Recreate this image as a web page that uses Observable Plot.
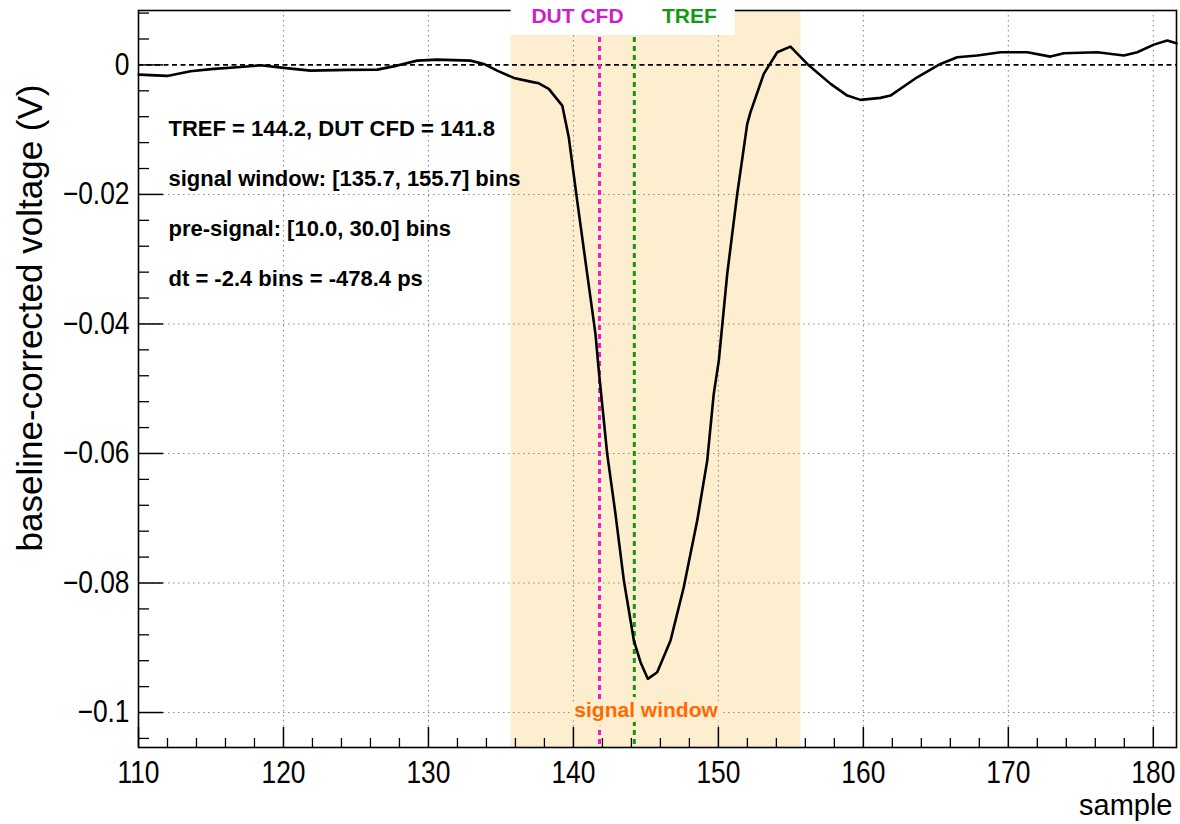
<!DOCTYPE html>
<html><head><meta charset="utf-8">
<script src="https://cdn.jsdelivr.net/npm/d3@7"></script>
<script src="https://cdn.jsdelivr.net/npm/@observablehq/plot@0.6"></script>
<style>
html,body{margin:0;padding:0;background:#fff}
#chart svg{display:block}
</style>
</head><body><div id="chart"></div>
<script>
// ---- data ----
const sample = [110.02,111.98,113.59,115.19,116.81,118.42,120.03,121.86,124.40,126.47,127.85,129.22,130.60,132.90,133.82,134.74,135.89,137.04,137.61,138.30,139.23,139.68,140.26,140.95,141.52,141.75,142.33,142.90,143.48,144.17,144.63,145.13,145.78,146.70,147.61,148.54,149.23,149.68,150.03,150.61,151.30,151.99,152.21,153.13,154.06,154.97,156.13,157.74,158.89,159.80,161.18,161.87,163.71,165.32,166.47,167.85,169.46,171.30,172.91,173.83,176.13,177.97,178.89,180.04,180.96,181.60];
const voltage = [-0.0015,-0.0017,-0.00099,-0.00062,-0.00037,-0.00006,-0.00046,-0.00088,-0.00077,-0.00073,-0.00011,0.00066,0.00082,0.00066,0.00015,-0.00088,-0.00201,-0.00258,-0.00284,-0.00371,-0.00628,-0.01118,-0.02095,-0.03227,-0.04153,-0.0472,-0.06006,-0.06932,-0.07962,-0.08888,-0.09223,-0.0948,-0.09378,-0.08888,-0.08065,-0.07036,-0.0611,-0.0508,-0.04566,-0.03227,-0.01992,-0.00911,-0.00732,-0.00139,0.00195,0.00283,0.00015,-0.00293,-0.00474,-0.0054,-0.00509,-0.00474,-0.00191,0.00015,0.00117,0.00144,0.00195,0.00195,0.00128,0.00179,0.00195,0.00144,0.00195,0.00313,0.00375,0.00334];
const xTickValues = [110,120,130,140,150,160,170,180];
const yTickValues = [0,-0.02,-0.04,-0.06,-0.08,-0.1];
const signalWindow = [135.7, 155.7];
const trefTime = 144.2;
const dutCfdTime = 141.8;
const markerLabels = ["DUT CFD", "TREF"];
const infoLines = [
  "TREF = 144.2, DUT CFD = 141.8",
  "signal window: [135.7, 155.7] bins",
  "pre-signal: [10.0, 30.0] bins",
  "dt = -2.4 bins = -478.4 ps"
];
const windowLabel = "signal window";
const xLabel = "sample";
const yLabel = "baseline-corrected voltage (V)";

// ---- layout ----
const W = 1180, H = 824, mL = 138, mR = 4, mT = 10, mB = 77;
const frameW = W - mL - mR, frameH = H - mT - mB;
const xDomain = [110, 181.6], yDomain = [-0.1054, 0.0084];
const bandColor = "#fdeed0";
const boldFont = "Liberation Sans, Arial, sans-serif";

const points = sample.map((s, i) => ({s, v: voltage[i]}));
const minorX = d3.range(112, 182, 2).filter(d => d % 10 !== 0);
const minorY = d3.range(-26, 3).filter(k => k % 5 !== 0).map(k => k * 0.004);

const chart = Plot.plot({
  width: W, height: H,
  marginLeft: mL, marginRight: mR, marginTop: mT, marginBottom: mB,
  style: {fontFamily: "Liberation Sans, Arial, sans-serif", fontSize: "28px", background: "white", color: "black"},
  x: {domain: xDomain, axis: null},
  y: {domain: yDomain, axis: null},
  marks: [
    Plot.rect([signalWindow], {x1: d => d[0], x2: d => d[1], fill: bandColor}),
    Plot.gridX(xTickValues.slice(1), {stroke: "#8a8a8a", strokeOpacity: 1, strokeWidth: 1.1, strokeDasharray: "1.5,3.5"}),
    Plot.gridY(yTickValues.slice(1), {stroke: "#8a8a8a", strokeOpacity: 1, strokeWidth: 1.1, strokeDasharray: "1.5,3.5"}),
    Plot.ruleY([0], {stroke: "black", strokeWidth: 1.6, strokeDasharray: "5,3.5"}),
    Plot.ruleX([dutCfdTime], {stroke: "#ee1ccc", strokeWidth: 3, strokeDasharray: "5,4"}),
    Plot.ruleX([trefTime], {stroke: "#129612", strokeWidth: 3, strokeDasharray: "5,4"}),
    Plot.line(points, {x: "s", y: "v", stroke: "black", strokeWidth: 2.6}),
    Plot.frame({stroke: "black", strokeWidth: 1.6}),
    Plot.ruleX(xTickValues, {x: d => d, insetTop: frameH - 20, stroke: "black", strokeWidth: 1.5}),
    Plot.ruleX(minorX, {x: d => d, insetTop: frameH - 9, stroke: "black", strokeWidth: 1.3}),
    Plot.ruleY(yTickValues, {y: d => d, insetRight: frameW - 25, stroke: "black", strokeWidth: 1.5}),
    Plot.ruleY(minorY, {y: d => d, insetRight: frameW - 11, stroke: "black", strokeWidth: 1.3}),
    Plot.axisX(xTickValues, {tickSize: 0, tickPadding: 13, fontSize: 31, label: null}),
    Plot.axisY(yTickValues, {tickSize: 0, tickPadding: 9, fontSize: 31, label: null, tickFormat: d3.format("~g")}),
    Plot.text([infoLines.join("\n")], {text: d => d, frameAnchor: "top-left", dx: 30, dy: 90, lineAnchor: "top", lineHeight: 2.27, textAnchor: "start", fontSize: 22, fontWeight: "bold", fontFamily: boldFont, fill: "black"}),
    Plot.text([windowLabel], {text: d => d, x: (signalWindow[0] + signalWindow[1]) / 2, frameAnchor: "bottom", dx: -10, dy: -37, lineAnchor: "middle", fontSize: 21, fontWeight: "bold", fontFamily: boldFont, fill: "#ff6a00", stroke: bandColor, strokeWidth: 10, strokeLinejoin: "round", paintOrder: "stroke"}),
    Plot.rect([0], {x1: signalWindow[0], x2: trefTime, insetRight: -101, insetTop: -mT, insetBottom: frameH + mT - 35, fill: "white"}),
    Plot.text([markerLabels[0]], {text: d => d, x: dutCfdTime, frameAnchor: "top", dx: -22, dy: 6, lineAnchor: "middle", fontSize: 21, fontWeight: "bold", fontFamily: boldFont, fill: "#cc1fcc"}),
    Plot.text([markerLabels[1]], {text: d => d, x: trefTime, frameAnchor: "top", dx: 55, dy: 6, lineAnchor: "middle", fontSize: 21, fontWeight: "bold", fontFamily: boldFont, fill: "#139a13"}),
    Plot.text([yLabel], {text: d => d, frameAnchor: "top-left", dx: -108, dy: 74, rotate: -90, textAnchor: "end", lineAnchor: "middle", fontSize: 35}),
    Plot.text([xLabel], {text: d => d, frameAnchor: "bottom-right", dx: -4, dy: 58, textAnchor: "end", lineAnchor: "middle", fontSize: 29})
  ]
});
document.getElementById("chart").appendChild(chart);
// condense the tick-label glyphs horizontally, as in the reference
d3.select(chart).selectAll("g[aria-label='x-axis tick label'] text, g[aria-label='y-axis tick label'] text").each(function() {
  const len = this.getComputedTextLength();
  this.setAttribute("textLength", (len * 0.85).toFixed(1));
  this.setAttribute("lengthAdjust", "spacingAndGlyphs");
});
</script>
</body></html>
